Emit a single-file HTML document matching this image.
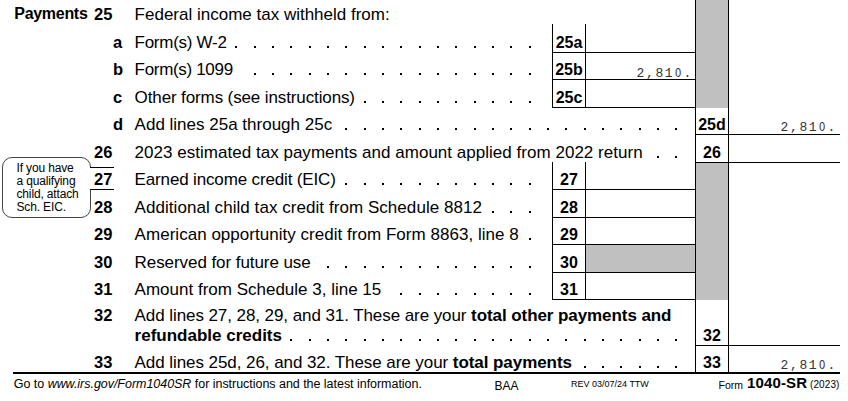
<!DOCTYPE html>
<html><head><meta charset="utf-8"><style>
html,body{margin:0;padding:0;background:#fff;width:848px;height:401px;overflow:hidden;position:relative}
.t{position:absolute;white-space:nowrap;line-height:1;color:#000;font-family:"Liberation Sans",sans-serif}
.cl{text-align:center}
.m{font-family:"Liberation Mono",monospace;font-size:13px;letter-spacing:1.6px;color:#333}
.l{position:absolute}
.d{position:absolute;width:2px;height:2px;background:#000}
.eic{position:absolute;left:2px;top:157px;width:87px;height:59px;border:1px solid #444;border-radius:10px;box-sizing:content-box}
.eicgap{position:absolute;left:88px;top:168px;width:4px;height:21px;background:#fff}
</style></head><body>
<div class="l" style="left:695px;top:0px;width:33px;height:108px;background:#c0c0c0"></div>
<div class="l" style="left:695px;top:162px;width:33px;height:138px;background:#c0c0c0"></div>
<div class="l" style="left:585px;top:244px;width:110px;height:28px;background:#c0c0c0"></div>
<div class="l" style="left:695px;top:0px;width:1px;height:373px;background:#000"></div>
<div class="l" style="left:728px;top:0px;width:1px;height:373px;background:#000"></div>
<div class="l" style="left:552px;top:24px;width:1px;height:83px;background:#000"></div>
<div class="l" style="left:585px;top:24px;width:1px;height:83px;background:#000"></div>
<div class="l" style="left:552px;top:52px;width:144px;height:1px;background:#000"></div>
<div class="l" style="left:552px;top:79px;width:144px;height:1px;background:#000"></div>
<div class="l" style="left:552px;top:107px;width:144px;height:1px;background:#000"></div>
<div class="l" style="left:695px;top:134px;width:145px;height:1px;background:#000"></div>
<div class="l" style="left:695px;top:162px;width:145px;height:1px;background:#000"></div>
<div class="l" style="left:552px;top:162px;width:1px;height:138px;background:#000"></div>
<div class="l" style="left:585px;top:162px;width:1px;height:138px;background:#000"></div>
<div class="l" style="left:552px;top:189px;width:144px;height:1px;background:#000"></div>
<div class="l" style="left:552px;top:217px;width:144px;height:1px;background:#000"></div>
<div class="l" style="left:552px;top:244px;width:144px;height:1px;background:#000"></div>
<div class="l" style="left:552px;top:272px;width:144px;height:1px;background:#000"></div>
<div class="l" style="left:552px;top:299px;width:144px;height:1px;background:#000"></div>
<div class="l" style="left:695px;top:345px;width:145px;height:1px;background:#000"></div>
<div class="l" style="left:13px;top:372px;width:827px;height:2px;background:#000"></div>
<div class="t" style="left:14.3px;top:6px;font-size:16px;font-weight:bold;font-family:'Liberation Sans';letter-spacing:-0.3px;">Payments</div>
<div class="t" style="left:94px;top:6px;font-size:16.5px;font-weight:bold;font-family:'Liberation Sans';">25</div>
<div class="t" style="left:94px;top:144px;font-size:16.5px;font-weight:bold;font-family:'Liberation Sans';">26</div>
<div class="t" style="left:94px;top:171px;font-size:16.5px;font-weight:bold;font-family:'Liberation Sans';">27</div>
<div class="t" style="left:94px;top:199px;font-size:16.5px;font-weight:bold;font-family:'Liberation Sans';">28</div>
<div class="t" style="left:94px;top:226px;font-size:16.5px;font-weight:bold;font-family:'Liberation Sans';">29</div>
<div class="t" style="left:94px;top:254px;font-size:16.5px;font-weight:bold;font-family:'Liberation Sans';">30</div>
<div class="t" style="left:94px;top:281px;font-size:16.5px;font-weight:bold;font-family:'Liberation Sans';">31</div>
<div class="t" style="left:94px;top:307px;font-size:16.5px;font-weight:bold;font-family:'Liberation Sans';">32</div>
<div class="t" style="left:94px;top:354px;font-size:16.5px;font-weight:bold;font-family:'Liberation Sans';">33</div>
<div class="t" style="left:113px;top:34px;font-size:16.5px;font-weight:bold;font-family:'Liberation Sans';">a</div>
<div class="t" style="left:113px;top:61px;font-size:16.5px;font-weight:bold;font-family:'Liberation Sans';">b</div>
<div class="t" style="left:113px;top:89px;font-size:16.5px;font-weight:bold;font-family:'Liberation Sans';">c</div>
<div class="t" style="left:113px;top:116px;font-size:16.5px;font-weight:bold;font-family:'Liberation Sans';">d</div>
<div class="t" style="left:134.6px;top:6px;font-size:17px;font-weight:normal;font-family:'Liberation Sans';">Federal income tax withheld from:</div>
<div class="t" style="left:134.6px;top:34px;font-size:17px;font-weight:normal;font-family:'Liberation Sans';letter-spacing:-0.28px;">Form(s) W-2</div>
<div class="t" style="left:134.6px;top:61px;font-size:17px;font-weight:normal;font-family:'Liberation Sans';letter-spacing:-0.32px;">Form(s) 1099</div>
<div class="t" style="left:134.6px;top:89px;font-size:17px;font-weight:normal;font-family:'Liberation Sans';letter-spacing:-0.12px;">Other forms (see instructions)</div>
<div class="t" style="left:134.6px;top:116px;font-size:17px;font-weight:normal;font-family:'Liberation Sans';">Add lines 25a through 25c</div>
<div class="t" style="left:134.6px;top:144px;font-size:17px;font-weight:normal;font-family:'Liberation Sans';letter-spacing:0.024px;">2023 estimated tax payments and amount applied from 2022 return</div>
<div class="t" style="left:134.6px;top:171px;font-size:17px;font-weight:normal;font-family:'Liberation Sans';letter-spacing:-0.15px;">Earned income credit (EIC)</div>
<div class="t" style="left:134.6px;top:199px;font-size:17px;font-weight:normal;font-family:'Liberation Sans';letter-spacing:0.055px;">Additional child tax credit from Schedule 8812</div>
<div class="t" style="left:134.6px;top:226px;font-size:17px;font-weight:normal;font-family:'Liberation Sans';letter-spacing:0.03px;">American opportunity credit from Form 8863, line 8</div>
<div class="t" style="left:134.6px;top:254px;font-size:17px;font-weight:normal;font-family:'Liberation Sans';letter-spacing:-0.07px;">Reserved for future use</div>
<div class="t" style="left:134.6px;top:281px;font-size:17px;font-weight:normal;font-family:'Liberation Sans';">Amount from Schedule 3, line 15</div>
<div class="t" style="left:134.6px;top:307px;font-size:17px;font-weight:normal;font-family:'Liberation Sans';letter-spacing:-0.076px;">Add lines 27, 28, 29, and 31. These are your <b>total other payments and</b></div>
<div class="t" style="left:134.6px;top:327px;font-size:17px;font-weight:normal;font-family:'Liberation Sans';"><b>refundable credits</b></div>
<div class="t" style="left:134.6px;top:354px;font-size:17px;font-weight:normal;font-family:'Liberation Sans';letter-spacing:-0.066px;">Add lines 25d, 26, and 32. These are your <b>total payments</b></div>
<div class="d" style="left:235.4px;top:46px"></div>
<div class="d" style="left:253.7px;top:46px"></div>
<div class="d" style="left:272.1px;top:46px"></div>
<div class="d" style="left:290.4px;top:46px"></div>
<div class="d" style="left:308.7px;top:46px"></div>
<div class="d" style="left:327.1px;top:46px"></div>
<div class="d" style="left:345.4px;top:46px"></div>
<div class="d" style="left:363.7px;top:46px"></div>
<div class="d" style="left:382.0px;top:46px"></div>
<div class="d" style="left:400.4px;top:46px"></div>
<div class="d" style="left:418.7px;top:46px"></div>
<div class="d" style="left:437.0px;top:46px"></div>
<div class="d" style="left:455.4px;top:46px"></div>
<div class="d" style="left:473.7px;top:46px"></div>
<div class="d" style="left:492.0px;top:46px"></div>
<div class="d" style="left:510.4px;top:46px"></div>
<div class="d" style="left:528.7px;top:46px"></div>
<div class="d" style="left:253.7px;top:73px"></div>
<div class="d" style="left:272.1px;top:73px"></div>
<div class="d" style="left:290.4px;top:73px"></div>
<div class="d" style="left:308.7px;top:73px"></div>
<div class="d" style="left:327.1px;top:73px"></div>
<div class="d" style="left:345.4px;top:73px"></div>
<div class="d" style="left:363.7px;top:73px"></div>
<div class="d" style="left:382.0px;top:73px"></div>
<div class="d" style="left:400.4px;top:73px"></div>
<div class="d" style="left:418.7px;top:73px"></div>
<div class="d" style="left:437.0px;top:73px"></div>
<div class="d" style="left:455.4px;top:73px"></div>
<div class="d" style="left:473.7px;top:73px"></div>
<div class="d" style="left:492.0px;top:73px"></div>
<div class="d" style="left:510.4px;top:73px"></div>
<div class="d" style="left:528.7px;top:73px"></div>
<div class="d" style="left:363.7px;top:101px"></div>
<div class="d" style="left:382.0px;top:101px"></div>
<div class="d" style="left:400.4px;top:101px"></div>
<div class="d" style="left:418.7px;top:101px"></div>
<div class="d" style="left:437.0px;top:101px"></div>
<div class="d" style="left:455.4px;top:101px"></div>
<div class="d" style="left:473.7px;top:101px"></div>
<div class="d" style="left:492.0px;top:101px"></div>
<div class="d" style="left:510.4px;top:101px"></div>
<div class="d" style="left:528.7px;top:101px"></div>
<div class="d" style="left:345.4px;top:128px"></div>
<div class="d" style="left:363.7px;top:128px"></div>
<div class="d" style="left:382.0px;top:128px"></div>
<div class="d" style="left:400.4px;top:128px"></div>
<div class="d" style="left:418.7px;top:128px"></div>
<div class="d" style="left:437.0px;top:128px"></div>
<div class="d" style="left:455.4px;top:128px"></div>
<div class="d" style="left:473.7px;top:128px"></div>
<div class="d" style="left:492.0px;top:128px"></div>
<div class="d" style="left:510.4px;top:128px"></div>
<div class="d" style="left:528.7px;top:128px"></div>
<div class="d" style="left:547.0px;top:128px"></div>
<div class="d" style="left:565.3px;top:128px"></div>
<div class="d" style="left:583.7px;top:128px"></div>
<div class="d" style="left:602.0px;top:128px"></div>
<div class="d" style="left:620.3px;top:128px"></div>
<div class="d" style="left:638.7px;top:128px"></div>
<div class="d" style="left:657.0px;top:128px"></div>
<div class="d" style="left:675.3px;top:128px"></div>
<div class="d" style="left:657.0px;top:156px"></div>
<div class="d" style="left:675.3px;top:156px"></div>
<div class="d" style="left:345.4px;top:183px"></div>
<div class="d" style="left:363.7px;top:183px"></div>
<div class="d" style="left:382.0px;top:183px"></div>
<div class="d" style="left:400.4px;top:183px"></div>
<div class="d" style="left:418.7px;top:183px"></div>
<div class="d" style="left:437.0px;top:183px"></div>
<div class="d" style="left:455.4px;top:183px"></div>
<div class="d" style="left:473.7px;top:183px"></div>
<div class="d" style="left:492.0px;top:183px"></div>
<div class="d" style="left:510.4px;top:183px"></div>
<div class="d" style="left:528.7px;top:183px"></div>
<div class="d" style="left:492.0px;top:211px"></div>
<div class="d" style="left:510.4px;top:211px"></div>
<div class="d" style="left:528.7px;top:211px"></div>
<div class="d" style="left:528.7px;top:238px"></div>
<div class="d" style="left:327.1px;top:266px"></div>
<div class="d" style="left:345.4px;top:266px"></div>
<div class="d" style="left:363.7px;top:266px"></div>
<div class="d" style="left:382.0px;top:266px"></div>
<div class="d" style="left:400.4px;top:266px"></div>
<div class="d" style="left:418.7px;top:266px"></div>
<div class="d" style="left:437.0px;top:266px"></div>
<div class="d" style="left:455.4px;top:266px"></div>
<div class="d" style="left:473.7px;top:266px"></div>
<div class="d" style="left:492.0px;top:266px"></div>
<div class="d" style="left:510.4px;top:266px"></div>
<div class="d" style="left:528.7px;top:266px"></div>
<div class="d" style="left:400.4px;top:293px"></div>
<div class="d" style="left:418.7px;top:293px"></div>
<div class="d" style="left:437.0px;top:293px"></div>
<div class="d" style="left:455.4px;top:293px"></div>
<div class="d" style="left:473.7px;top:293px"></div>
<div class="d" style="left:492.0px;top:293px"></div>
<div class="d" style="left:510.4px;top:293px"></div>
<div class="d" style="left:528.7px;top:293px"></div>
<div class="d" style="left:290.4px;top:339px"></div>
<div class="d" style="left:308.7px;top:339px"></div>
<div class="d" style="left:327.1px;top:339px"></div>
<div class="d" style="left:345.4px;top:339px"></div>
<div class="d" style="left:363.7px;top:339px"></div>
<div class="d" style="left:382.0px;top:339px"></div>
<div class="d" style="left:400.4px;top:339px"></div>
<div class="d" style="left:418.7px;top:339px"></div>
<div class="d" style="left:437.0px;top:339px"></div>
<div class="d" style="left:455.4px;top:339px"></div>
<div class="d" style="left:473.7px;top:339px"></div>
<div class="d" style="left:492.0px;top:339px"></div>
<div class="d" style="left:510.4px;top:339px"></div>
<div class="d" style="left:528.7px;top:339px"></div>
<div class="d" style="left:547.0px;top:339px"></div>
<div class="d" style="left:565.3px;top:339px"></div>
<div class="d" style="left:583.7px;top:339px"></div>
<div class="d" style="left:602.0px;top:339px"></div>
<div class="d" style="left:620.3px;top:339px"></div>
<div class="d" style="left:638.7px;top:339px"></div>
<div class="d" style="left:657.0px;top:339px"></div>
<div class="d" style="left:675.3px;top:339px"></div>
<div class="d" style="left:583.7px;top:366px"></div>
<div class="d" style="left:602.0px;top:366px"></div>
<div class="d" style="left:620.3px;top:366px"></div>
<div class="d" style="left:638.7px;top:366px"></div>
<div class="d" style="left:657.0px;top:366px"></div>
<div class="d" style="left:675.3px;top:366px"></div>
<div class="t cl" style="left:553px;width:32px;top:35px;font-size:16px;font-weight:bold">25a</div>
<div class="t cl" style="left:553px;width:32px;top:62px;font-size:16px;font-weight:bold">25b</div>
<div class="t cl" style="left:553px;width:32px;top:90px;font-size:16px;font-weight:bold">25c</div>
<div class="t cl" style="left:696px;width:32px;top:117px;font-size:16px;font-weight:bold">25d</div>
<div class="t cl" style="left:696px;width:32px;top:145px;font-size:16px;font-weight:bold">26</div>
<div class="t cl" style="left:553px;width:32px;top:172px;font-size:16px;font-weight:bold">27</div>
<div class="t cl" style="left:553px;width:32px;top:200px;font-size:16px;font-weight:bold">28</div>
<div class="t cl" style="left:553px;width:32px;top:227px;font-size:16px;font-weight:bold">29</div>
<div class="t cl" style="left:553px;width:32px;top:255px;font-size:16px;font-weight:bold">30</div>
<div class="t cl" style="left:553px;width:32px;top:282px;font-size:16px;font-weight:bold">31</div>
<div class="t cl" style="left:696px;width:32px;top:328px;font-size:16px;font-weight:bold">32</div>
<div class="t cl" style="left:696px;width:32px;top:355px;font-size:16px;font-weight:bold">33</div>
<div class="t m" style="right:155px;top:67px">2,81<span style="display:inline-block;transform:scaleX(0.8)">O</span>.</div>
<div class="t m" style="right:11px;top:121px">2,81<span style="display:inline-block;transform:scaleX(0.8)">O</span>.</div>
<div class="t m" style="right:11px;top:359px">2,81<span style="display:inline-block;transform:scaleX(0.8)">O</span>.</div>
<div class="eic"></div>
<div class="eicgap"></div>
<div class="l" style="left:90px;top:167px;width:24px;height:1px;background:#000"></div>
<div class="l" style="left:90px;top:189px;width:24px;height:1px;background:#000"></div>
<div class="t" style="left:16.5px;top:162px;font-size:12px;font-weight:normal;font-family:'Liberation Sans';letter-spacing:-0.15px;">If you have</div>
<div class="t" style="left:16.5px;top:175px;font-size:12px;font-weight:normal;font-family:'Liberation Sans';letter-spacing:-0.15px;">a qualifying</div>
<div class="t" style="left:16.5px;top:188px;font-size:12px;font-weight:normal;font-family:'Liberation Sans';letter-spacing:-0.15px;">child, attach</div>
<div class="t" style="left:16.5px;top:201px;font-size:12px;font-weight:normal;font-family:'Liberation Sans';letter-spacing:-0.15px;">Sch. EIC.</div>
<div class="t" style="left:13.8px;top:378px;font-size:12.5px;font-weight:normal;font-family:'Liberation Sans';letter-spacing:-0.035px;">Go to <i>www.irs.gov/Form1040SR</i> for instructions and the latest information.</div>
<div class="t" style="left:494.5px;top:380px;font-size:12px;font-weight:normal;font-family:'Liberation Sans';">BAA</div>
<div class="t" style="left:571px;top:380px;font-size:9px;font-weight:normal;font-family:'Liberation Sans';">REV 03/07/24 TTW</div>
<div class="t" style="left:718.5px;top:380px;font-size:10.5px;font-weight:normal;font-family:'Liberation Sans';">Form</div>
<div class="t" style="left:747px;top:375px;font-size:15px;font-weight:bold;font-family:'Liberation Sans';letter-spacing:0.15px;">1040-SR</div>
<div class="t" style="left:810px;top:380px;font-size:10px;font-weight:normal;font-family:'Liberation Sans';letter-spacing:0.1px;">(2023)</div>
</body></html>
